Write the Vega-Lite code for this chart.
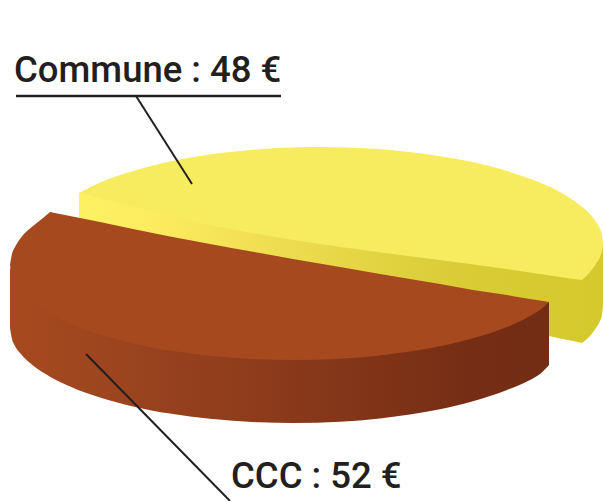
{
"$schema":"https://vega.github.io/schema/vega-lite/v6.json",
"width":603,"height":501,"padding":0,"autosize":{"type":"none"},
"background":"white","view":{"stroke":null},
"config":{"style":{"cell":{"stroke":null}}},
"datasets":{
"communeSideA":[{"x":79,"y":193,"y2":225},{"x":130,"y":198,"y2":258},{"x":200,"y":215,"y2":271},{"x":250,"y":225,"y2":280},{"x":300,"y":233,"y2":289},{"x":370,"y":243,"y2":302},{"x":420,"y":250,"y2":312},{"x":470,"y":256,"y2":322},{"x":510,"y":262,"y2":329},{"x":549,"y":267,"y2":336},{"x":560,"y":269,"y2":338.5},{"x":573,"y":271,"y2":341},{"x":582,"y":272,"y2":343}],
"communeSideB":[{"x":582,"y":272,"y2":343},{"x":590,"y":264,"y2":336},{"x":596,"y":256,"y2":328},{"x":600,"y":250,"y2":321},{"x":602,"y":247,"y2":315},{"x":603,"y":245,"y2":305}],
"communeTop":[{"s":"a","x":79,"y":193,"y2":193},{"s":"a","x":100,"y":182.6,"y2":198},{"s":"a","x":130,"y":171.9,"y2":205.5},{"s":"a","x":157,"y":164.6,"y2":212},{"s":"a","x":200,"y":156,"y2":223},{"s":"a","x":250,"y":150,"y2":232.5},{"s":"a","x":300,"y":147.3,"y2":241},{"s":"a","x":320,"y":147,"y2":244},{"s":"a","x":370,"y":148.5,"y2":251},{"s":"a","x":420,"y":153.2,"y2":257.5},{"s":"a","x":470,"y":161.6,"y2":264},{"s":"a","x":510,"y":171.9,"y2":269.5},{"s":"a","x":540,"y":182.6,"y2":274},{"s":"a","x":560,"y":192,"y2":277},{"s":"a","x":573,"y":200,"y2":279},{"s":"a","x":582,"y":206.7,"y2":280},{"s":"b","x":582,"y":206.7,"y2":280},{"s":"b","x":590,"y":214,"y2":272},{"s":"b","x":596,"y":221.7,"y2":264},{"s":"b","x":600,"y":228.8,"y2":257},{"s":"b","x":602,"y":234.5,"y2":251},{"s":"b","x":603,"y":245,"y2":245}],
"cccSide":[{"x":10,"y":268,"y2":328},{"x":12,"y":270,"y2":339},{"x":15,"y":272,"y2":346},{"x":20,"y":275,"y2":353},{"x":27,"y":282,"y2":360.5},{"x":33,"y":287,"y2":365.5},{"x":43,"y":295,"y2":372.6},{"x":50,"y":299,"y2":376.7},{"x":70,"y":308,"y2":386.5},{"x":100,"y":320,"y2":397.5},{"x":133,"y":328,"y2":406.4},{"x":170,"y":335,"y2":413.6},{"x":210,"y":341,"y2":418.8},{"x":260,"y":344,"y2":422.3},{"x":293,"y":345,"y2":423},{"x":340,"y":344,"y2":421.7},{"x":380,"y":340,"y2":418.4},{"x":410,"y":336,"y2":414.5},{"x":440,"y":331,"y2":409.2},{"x":473,"y":323,"y2":401.3},{"x":507,"y":312,"y2":390},{"x":530,"y":305,"y2":380},{"x":540,"y":304,"y2":374},{"x":549,"y":302,"y2":365}],
"cccTop":[{"s":"a","x":10,"y":265,"y2":265},{"s":"a","x":12,"y":254,"y2":276},{"s":"a","x":15,"y":247,"y2":283},{"s":"a","x":20,"y":239,"y2":290},{"s":"a","x":27,"y":231,"y2":297.5},{"s":"a","x":33,"y":226,"y2":302.5},{"s":"a","x":43,"y":218,"y2":309.6},{"s":"a","x":50,"y":212,"y2":313.7},{"s":"b","x":50,"y":212,"y2":313.7},{"s":"b","x":70,"y":216,"y2":323.5},{"s":"b","x":100,"y":222,"y2":334.5},{"s":"b","x":133,"y":229,"y2":343.4},{"s":"b","x":170,"y":236.5,"y2":350.6},{"s":"b","x":210,"y":244,"y2":355.8},{"s":"b","x":260,"y":253,"y2":359.3},{"s":"b","x":293,"y":259,"y2":360},{"s":"b","x":340,"y":267,"y2":358.7},{"s":"b","x":380,"y":274,"y2":355.4},{"s":"b","x":410,"y":279,"y2":351.5},{"s":"b","x":440,"y":284,"y2":346.2},{"s":"b","x":473,"y":290,"y2":338.3},{"s":"b","x":507,"y":295,"y2":327.1},{"s":"b","x":530,"y":299,"y2":316},{"s":"b","x":540,"y":300.5,"y2":310},{"s":"b","x":549,"y":302,"y2":302}],
"leaders":[{"x":16,"y":96,"x2":281,"y2":96,"w":2.6},{"x":136,"y":96,"x2":192,"y2":184,"w":2},{"x":86,"y":354,"x2":230,"y2":501,"w":2}],
"labels":[{"label":"Commune : 48 €","x":14,"y":82},{"label":"CCC : 52 €","x":231,"y":488}]
},
"encoding":{
"x":{"field":"x","type":"quantitative","scale":{"domain":[0,603],"nice":false,"zero":false},"axis":null},
"y":{"field":"y","type":"quantitative","scale":{"domain":[501,0],"nice":false,"zero":false},"axis":null}
},
"layer":[
{"data":{"name":"communeSideB"},"mark":{"type":"area","orient":"vertical","interpolate":"monotone","color":"#d6c92e"},"encoding":{"y2":{"field":"y2"}}},
{"data":{"name":"communeSideA"},"mark":{"type":"area","orient":"vertical","interpolate":"monotone","color":{"gradient":"linear","x1":0,"x2":1,"y1":0,"y2":0,"stops":[{"offset":0,"color":"#fdf162"},{"offset":0.14,"color":"#fdec60"},{"offset":0.33,"color":"#f3e055"},{"offset":0.75,"color":"#d9cc36"},{"offset":1,"color":"#d6c92e"}]}},"encoding":{"y2":{"field":"y2"}}},
{"data":{"name":"communeTop"},"mark":{"type":"area","orient":"vertical","interpolate":"monotone","color":"#f7ec60"},"encoding":{"y2":{"field":"y2"},"detail":{"field":"s"}}},
{"data":{"name":"cccSide"},"mark":{"type":"area","orient":"vertical","interpolate":"monotone","color":{"gradient":"linear","x1":0,"x2":1,"y1":0,"y2":0,"stops":[{"offset":0,"color":"#a6491f"},{"offset":0.12,"color":"#a0471f"},{"offset":0.5,"color":"#8b3a1b"},{"offset":0.85,"color":"#752e14"},{"offset":1,"color":"#722d14"}]}},"encoding":{"y2":{"field":"y2"}}},
{"data":{"name":"cccTop"},"mark":{"type":"area","orient":"vertical","interpolate":"monotone","color":"#a6491f"},"encoding":{"y2":{"field":"y2"},"detail":{"field":"s"}}},
{"data":{"name":"leaders"},"mark":{"type":"rule","color":"#231f20"},"encoding":{"x2":{"field":"x2"},"y2":{"field":"y2"},"strokeWidth":{"field":"w","type":"quantitative","scale":null}}},
{"data":{"name":"labels"},"mark":{"type":"text","align":"left","baseline":"alphabetic","font":"Roboto","fontWeight":500,"fontSize":36.5,"color":"#231f20"},"encoding":{"text":{"field":"label"}}}
]
}
